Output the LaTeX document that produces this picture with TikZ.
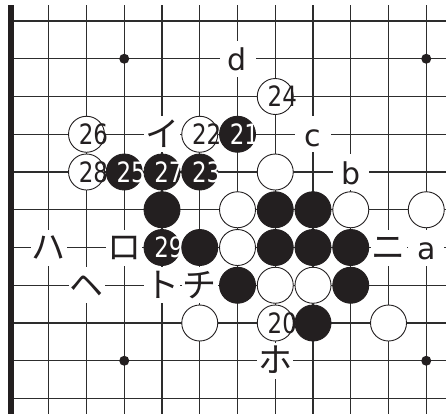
\documentclass[tikz,border=0pt]{standalone}
\usepackage{fontspec}
\setmainfont{DejaVu Sans}
\newfontfamily\numfont[FakeStretch=0.82]{DejaVu Sans}
\newfontfamily\kanafont{Noto Sans CJK JP}
\usepackage{tikz}
\usetikzlibrary{backgrounds}
\definecolor{gink}{RGB}{35,31,32}
\definecolor{gline}{RGB}{45,45,45}
\newcommand{\stn}[1]{\makebox[0pt]{\hspace{14pt}#1}}
\tikzset{
  gridline/.style={gline,line width=1.2pt},
  edgeline/.style={gink,line width=6.5pt},
  hoshi/.style={circle,fill=gink,minimum size=10pt,inner sep=0pt},
  stonew/.style={circle,draw=gink,line width=0.9pt,fill=white,minimum size=36pt,
                 inner sep=0pt,text=gink,font=\numfont\fontsize{28pt}{28pt}\selectfont},
  stoneb/.style={stonew,fill=gink,text=white},
  lbl/.style={rectangle,fill=white,minimum size=36pt,inner sep=0pt,text=gink,
              text height=24pt,text depth=0pt,font=\fontsize{30pt}{30pt}\selectfont},
  klbl/.style={lbl,font=\kanafont\fontsize{34pt}{34pt}\selectfont},
}

\begin{document}
\begin{tikzpicture}[x=37.75pt,y=-37.75pt]
  \useasboundingbox (-11pt,21pt) rectangle (435pt,-394pt);
  % board lines and left edge
  \foreach \c in {1,...,11}
    \draw[gridline] (\c,0) ++(0pt,16pt) -- ++(0pt,-409pt);
  \foreach \r in {0,...,10}
    \draw[gridline] (0,\r) -- ++(435pt,0pt);
  \draw[edgeline] (0,0) ++(0pt,16pt) -- ++(0pt,-409pt);
  \foreach \c/\r in {3/1,11/1,3/9,11/9}
    \node[hoshi] (h\c\r) at (\c,\r) {};
  % marked points
  \node[lbl]  (ld) at (6,1)  {d};
  \node[klbl] (li) at (4,3)  {イ};
  \node[lbl]  (lc) at (8,3)  {c};
  \node[lbl]  (lb) at (9,4)  {b};
  \node[klbl] (lha) at (1,6) {ハ};
  \node[klbl] (lro) at (3,6) {ロ};
  \node[klbl] (lni) at (10,6) {ニ};
  \node[lbl]  (la) at (11,6) {a};
  \node[klbl] (lhe) at (2,7) {ヘ};
  \node[klbl] (lto) at (4,7) {ト};
  \node[klbl] (lchi) at (5,7) {チ};
  \node[klbl] (lho) at (7,9) {ホ};
  % stones, row by row
  \node[stonew] (s72) at (7,2) {\stn{24}};
  \node[stonew] (s23) at (2,3) {\stn{26}};
  \node[stonew] (s53) at (5,3) {\stn{22}};
  \node[stoneb] (s63) at (6,3) {\stn{21}};
  \node[stonew] (s24) at (2,4) {\stn{28}};
  \node[stoneb] (s34) at (3,4) {\stn{25}};
  \node[stoneb] (s44) at (4,4) {\stn{27}};
  \node[stoneb] (s54) at (5,4) {\stn{23}};
  \node[stonew] (s74) at (7,4) {};
  \node[stoneb] (s45) at (4,5) {};
  \node[stonew] (s65) at (6,5) {};
  \node[stoneb] (s75) at (7,5) {};
  \node[stoneb] (s85) at (8,5) {};
  \node[stonew] (s95) at (9,5) {};
  \node[stonew] (s115) at (11,5) {};
  \node[stoneb] (s46) at (4,6) {\stn{29}};
  \node[stoneb] (s56) at (5,6) {};
  \node[stonew] (s66) at (6,6) {};
  \node[stoneb] (s76) at (7,6) {};
  \node[stoneb] (s86) at (8,6) {};
  \node[stoneb] (s96) at (9,6) {};
  \node[stoneb] (s67) at (6,7) {};
  \node[stonew] (s77) at (7,7) {};
  \node[stonew] (s87) at (8,7) {};
  \node[stoneb] (s97) at (9,7) {};
  \node[stonew] (s58) at (5,8) {};
  \node[stonew] (s78) at (7,8) {\stn{20}};
  \node[stoneb] (s88) at (8,8) {};
  \node[stonew] (s108) at (10,8) {};
\end{tikzpicture}
\end{document}
